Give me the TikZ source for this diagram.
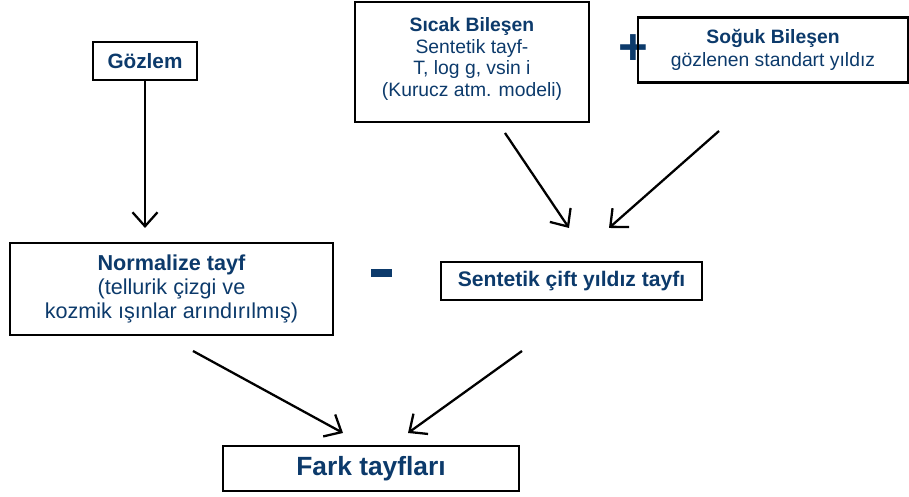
\documentclass[tikz,border=0pt]{standalone}
\usepackage{fontspec}
\setmainfont{Liberation Sans}
\usetikzlibrary{arrows.meta}
\definecolor{navy}{RGB}{12,58,107}

\begin{document}
\begin{tikzpicture}[
  box/.style={draw, line width=1.4pt, text=navy, align=center, inner sep=0pt},
  arr/.style={line width=1.3pt, -{Straight Barb[length=2.8mm,width=5mm]}}
]
\useasboundingbox (0,0) rectangle (18.18,9.94);

\node[box, minimum width=2.08cm, minimum height=0.76cm, font=\fontsize{11.8}{14}\selectfont\bfseries] (gozlem) at (2.9,8.72) {Gözlem};

\node[box, minimum width=4.68cm, minimum height=2.4cm, font=\fontsize{11}{12.3}\selectfont] (sicak) at (9.44,8.70)
  {\textbf{Sıcak Bileşen}\\Sentetik tayf-\\T, log g, vsin i\\(Kurucz atm. modeli)\\[-0.23cm]};
\node[text=navy, font=\fontsize{29}{29}\selectfont\bfseries] (arti) at (12.66,8.95) {+};
\node[box, minimum width=5.4cm, minimum height=1.3cm, font=\fontsize{11}{13}\selectfont] (soguk) at (15.46,8.94)
  {\textbf{Soğuk Bileşen}\\gözlenen standart yıldız};

\node[box, minimum width=6.46cm, minimum height=1.84cm, font=\fontsize{12.3}{13.8}\selectfont] (normal) at (3.43,4.16)
  {\textbf{Normalize tayf}\\(tellurik çizgi ve\\kozmik ışınlar arındırılmış)};
\node[fill=navy, minimum width=0.42cm, minimum height=0.16cm, inner sep=0pt] (eksi) at (7.63,4.48) {};
\node[box, minimum width=5.22cm, minimum height=0.76cm, font=\fontsize{12}{14}\selectfont\bfseries] (sentetik) at (11.43,4.32)
  {Sentetik çift yıldız tayfı};

\node[box, minimum width=5.92cm, minimum height=0.9cm, font=\fontsize{15}{17}\selectfont\bfseries] (fark) at (7.42,0.57)
  {Fark tayfları};

% free arrow ends
\coordinate (g2) at (2.9,5.38);
\coordinate (s1) at (10.1,7.28);
\coordinate (s2) at (11.38,5.38);
\coordinate (k1) at (14.38,7.32);
\coordinate (k2) at (12.18,5.38);
\coordinate (n1) at (3.86,2.92);
\coordinate (n2) at (6.86,1.28);
\coordinate (t1) at (10.44,2.92);
\coordinate (t2) at (8.16,1.28);

\draw[arr] (gozlem) -- (g2);
\draw[arr] (s1) -- (s2);
\draw[arr] (k1) -- (k2);
\draw[arr] (n1) -- (n2);
\draw[arr] (t1) -- (t2);
\end{tikzpicture}
\end{document}
